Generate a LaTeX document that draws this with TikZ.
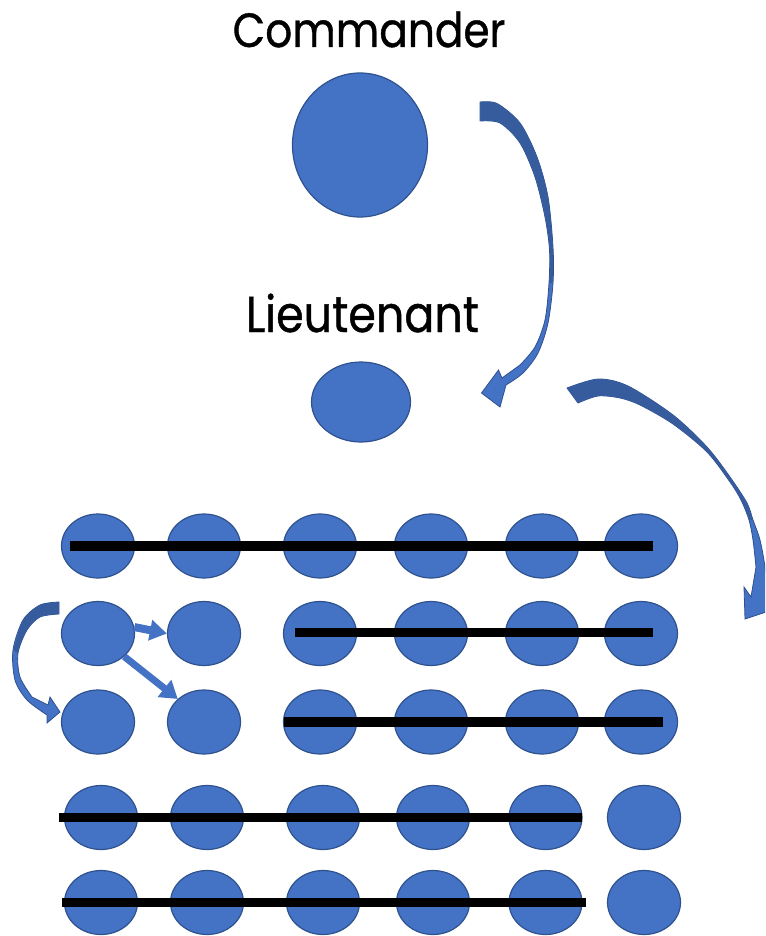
\documentclass[tikz,border=0pt]{standalone}
\usepackage{fontspec}
\newfontfamily\labelfont[FakeStretch=0.88,FakeBold=0.8]{Poppins}
\usetikzlibrary{shapes.geometric,arrows.meta}
\definecolor{nodefill}{HTML}{4472C4}
\definecolor{nodeline}{HTML}{2F528F}
\definecolor{arrowdark}{HTML}{365C9E}
\begin{document}
\begin{tikzpicture}[x=1pt,y=-1pt,
  soldier/.style={ellipse, fill=nodefill, draw=nodeline, line width=1.2pt,
    minimum width=73pt, minimum height=64pt, inner sep=0pt},
  bar/.style={line width=9.5pt, black},
  title/.style={font=\labelfont\fontsize{48}{48}\selectfont, anchor=base, inner sep=0pt},
  curvebody/.style={fill=nodefill, draw=nodeline, line width=0.8pt, line join=miter},
  curveshade/.style={fill=arrowdark},
  blockarrow/.style={line width=8pt, draw=nodefill, -{Triangle[length=17pt,width=20pt]}}
]
\useasboundingbox (0,0) rectangle (765,936);
\clip (0,0) rectangle (765,936);

% titles
\node[title] (cmdlabel) at (369,47) {Commander};
\node[title, font=\labelfont\fontsize{50.5}{50.5}\selectfont] (ltlabel) at (362.5,332) {Lieutenant};

% leaders
\node[soldier, minimum width=135pt, minimum height=144pt] (commander) at (360,145) {};
\node[soldier, minimum width=99pt, minimum height=80pt] (lieutenant) at (361,402) {};

% soldiers
\foreach \x [count=\i] in {98,204,320,431,542,641} {
  \node[soldier] (r1c\i) at (\x,546) {};
  \node[soldier] (r2c\i) at (\x,633.5) {};
  \node[soldier] (r3c\i) at (\x,722) {};
}
\foreach \x [count=\i] in {101,207,323,433,545.5,644} {
  \node[soldier] (r4c\i) at (\x,817.5) {};
  \node[soldier] (r5c\i) at (\x,902.5) {};
}

% bars
\draw[bar] ([xshift=-28pt]r1c1.center) -- ([xshift=12pt]r1c6.center);
\draw[bar] ([xshift=-25pt,yshift=1pt]r2c3.center) -- ([xshift=12pt,yshift=1pt]r2c6.center);
\draw[bar] ([xshift=-36pt]r3c3.center) -- ([xshift=22pt]r3c6.center);
\draw[bar] ([xshift=-42pt]r4c1.center) -- ([xshift=36pt]r4c5.center);
\draw[bar] ([xshift=-39pt]r5c1.center) -- ([xshift=40pt]r5c5.center);

% curved arrow: commander -> lieutenant
\path[curvebody] plot[smooth] coordinates {(480,102) (497,103.5) (520,123) (537,157) (548,197) (553,247) (553,283) (548,323) (538,353) (523,373) (506,385)}
  -- (500,407) -- (481.5,393) -- (498.5,370) -- (502,378)
  -- plot[smooth] coordinates {(520,365) (535,347) (545,320) (549,283) (549.5,250) (545,217) (535,177) (520,143) (500,123) (480,121)} -- cycle;
\path[curveshade] plot[smooth] coordinates {(480.4,102.4) (497,103.9) (520,123.4) (537,157) (548,197) (552.6,247) (552.6,283)}
  -- plot[smooth] coordinates {(549.4,283) (549.9,250) (545.4,217) (535.4,177) (520.3,143) (500,122.6) (480.4,120.6)} -- cycle;

% curved arrow: lieutenant -> crowd
\path[curvebody] plot[smooth] coordinates {(567,388) (598,379) (628,386) (673,415) (707,447) (730,477) (747,503) (753,520) (760,540) (765,567) (768,596)}
  -- (790,604) -- (745,619) -- (744,587) -- (751,597)
  -- plot[smooth] coordinates {(756,567) (753,540) (749,520) (741,500) (730,482) (707,452) (673,424) (640,405) (620,398) (598,396) (578,403)} -- cycle;
\path[curveshade] plot[smooth] coordinates {(567.6,388.3) (598,379.4) (628,386.4) (673,415.4) (707,447.4) (730,477.4) (746.6,503.4) (752.6,520)}
  -- plot[smooth] coordinates {(749.4,520) (741.4,500) (730.2,481.6) (707,451.6) (673,423.6) (640,404.6) (620,397.6) (598,395.6) (578,402.4)} -- cycle;

% curved arrow: left soldier -> soldier below
\path[curvebody] plot[smooth] coordinates {(59,602) (40,605) (23,620) (13,650) (15,680) (27,700) (47,715)}
  -- (47,723) -- (60,712) -- (50,697) -- (48,705)
  -- plot[smooth] coordinates {(32,697) (20,677) (18,653) (27,630) (40,617) (59,614)} -- cycle;
\path[curveshade] plot[smooth] coordinates {(58.6,602.4) (40,605.4) (23.4,620.2) (13.4,650)}
  -- plot[smooth] coordinates {(17.6,653) (26.7,629.7) (40,616.6) (58.6,613.6)} -- cycle;

% small block arrows
\draw[blockarrow] (r2c1.10) -- (r2c2.west);
\draw[blockarrow, line width=7pt, -{Triangle[length=17pt,width=21pt]}] (r2c1.south east) -- (r3c2.north west);
\end{tikzpicture}
\end{document}
